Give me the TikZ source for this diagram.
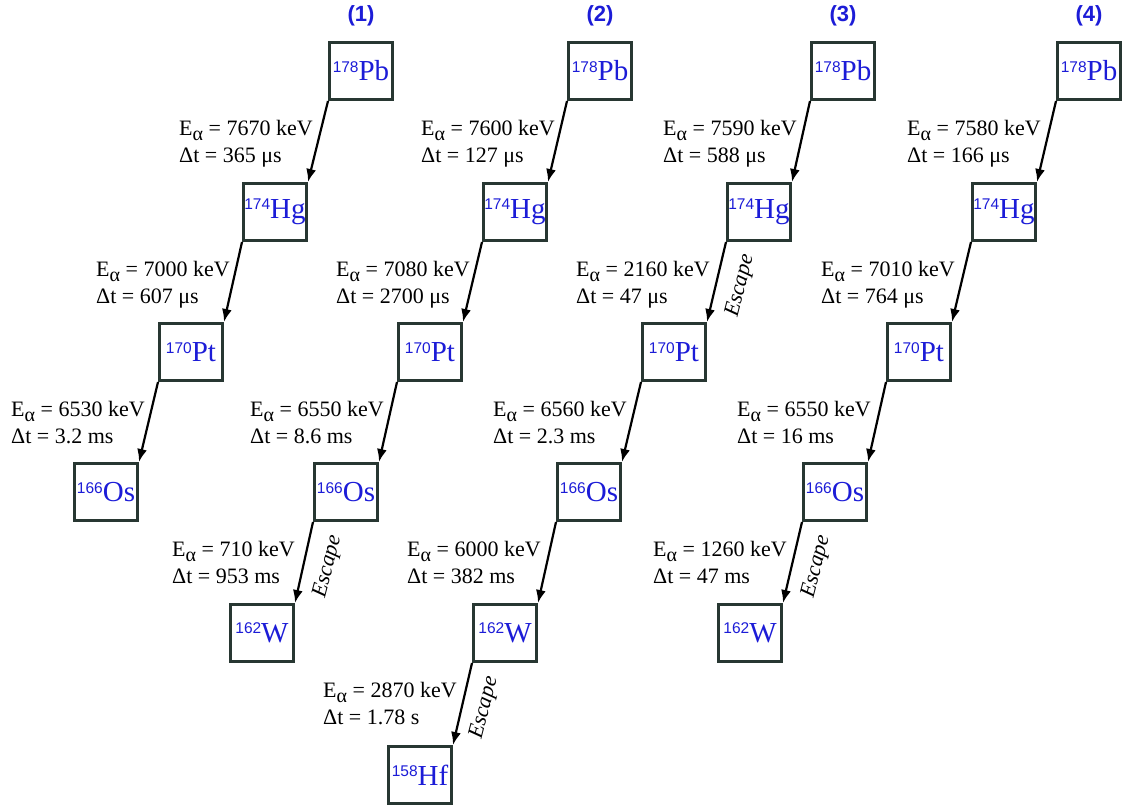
\documentclass[tikz,border=0pt]{standalone}
\usepackage{fontspec}
\setmainfont{Liberation Serif}
\setsansfont{Liberation Sans}
\usetikzlibrary{arrows.meta,calc}
\definecolor{elblue}{RGB}{28,28,215}
\definecolor{boxgray}{RGB}{40,55,50}
\newcommand{\nuc}[2]{{\sffamily\fontsize{15.5}{15.5}\selectfont\raisebox{8.5pt}{#1}}{\rmfamily\fontsize{29}{29}\selectfont #2}}
\newcommand{\dlab}[2]{E\raisebox{-5pt}{\fontsize{20}{20}\selectfont α} = #1 keV\\Δt = #2}
\begin{document}
\begin{tikzpicture}[x=1pt, y=-1pt,
  box/.style={draw=boxgray, line width=3pt, minimum width=63pt, minimum height=57pt, inner sep=0pt, text=elblue, anchor=north west},
  arr/.style={-{Latex[length=13pt,width=10pt]}, line width=2.2pt},
  lab/.style={anchor=north west, inner sep=0pt, align=left, font=\rmfamily\fontsize{22}{27}\selectfont},
  esc/.style={font=\rmfamily\fontsize{22}{22}\selectfont\itshape, rotate=75.5, inner sep=0pt},
  hdr/.style={text=elblue, font=\sffamily\bfseries\fontsize{22}{22}\selectfont, inner sep=0pt}]
\useasboundingbox (0,0) rectangle (1123,809);
% chain 1
\node[box] (a1) at (328,41) {\nuc{178}{Pb}};
\node[box] (a2) at (242,182) {\nuc{174}{Hg}};
\node[box] (a3) at (158,322) {\nuc{170}{Pt}};
\node[box] (a4) at (73,462) {\nuc{166}{Os}};
% chain 2
\node[box] (b1) at (567,41) {\nuc{178}{Pb}};
\node[box] (b2) at (482,182) {\nuc{174}{Hg}};
\node[box] (b3) at (397,322) {\nuc{170}{Pt}};
\node[box] (b4) at (313,462) {\nuc{166}{Os}};
\node[box] (b5) at (229,603) {\nuc{162}{W}};
% chain 3
\node[box] (c1) at (810,41) {\nuc{178}{Pb}};
\node[box] (c2) at (726,182) {\nuc{174}{Hg}};
\node[box] (c3) at (641,322) {\nuc{170}{Pt}};
\node[box] (c4) at (556,462) {\nuc{166}{Os}};
\node[box] (c5) at (472,603) {\nuc{162}{W}};
\node[box] (c6) at (387,745) {\nuc{158}{Hf}};
% chain 4
\node[box] (d1) at (1056,41) {\nuc{178}{Pb}};
\node[box] (d2) at (971,182) {\nuc{174}{Hg}};
\node[box] (d3) at (886,322) {\nuc{170}{Pt}};
\node[box] (d4) at (802,462) {\nuc{166}{Os}};
\node[box] (d5) at (717,603) {\nuc{162}{W}};
% headers
\node[hdr] (h1) at (a1.north |- 0,16) {(1)};
\node[hdr] (h2) at (b1.north |- 0,16) {(2)};
\node[hdr] (h3) at (c1.north |- 0,16) {(3)};
\node[hdr] (h4) at (d1.north |- 0,16) {(4)};
% arrows
\foreach \u/\v in {a1/a2,a2/a3,a3/a4,b1/b2,b2/b3,b3/b4,b4/b5,c1/c2,c2/c3,c3/c4,c4/c5,c5/c6,d1/d2,d2/d3,d3/d4,d4/d5}
  \draw[arr] (\u.south west) -- (\v.north east);
% labels
\node[lab] (la1) at (179,120) {\dlab{7670}{365 μs}};
\node[lab] (la2) at (96,261) {\dlab{7000}{607 μs}};
\node[lab] (la3) at (11,401) {\dlab{6530}{3.2 ms}};
\node[lab] (lb1) at (421,120) {\dlab{7600}{127 μs}};
\node[lab] (lb2) at (336,261) {\dlab{7080}{2700 μs}};
\node[lab] (lb3) at (250,401) {\dlab{6550}{8.6 ms}};
\node[lab] (lb4) at (172,541) {\dlab{710}{953 ms}};
\node[lab] (lc1) at (663,120) {\dlab{7590}{588 μs}};
\node[lab] (lc2) at (576,261) {\dlab{2160}{47 μs}};
\node[lab] (lc3) at (493,401) {\dlab{6560}{2.3 ms}};
\node[lab] (lc4) at (407,541) {\dlab{6000}{382 ms}};
\node[lab] (lc5) at (323,682) {\dlab{2870}{1.78 s}};
\node[lab] (ld1) at (907,120) {\dlab{7580}{166 μs}};
\node[lab] (ld2) at (821,261) {\dlab{7010}{764 μs}};
\node[lab] (ld3) at (737,401) {\dlab{6550}{16 ms}};
\node[lab] (ld4) at (653,541) {\dlab{1260}{47 ms}};
% escape labels
\node[esc] (eb4) at ($(b4.south west)!0.5!(b5.north east)+(24,4)$) {Escape};
\node[esc] (ec2) at ($(c2.south west)!0.5!(c3.north east)+(24,4)$) {Escape};
\node[esc] (ec5) at ($(c5.south west)!0.5!(c6.north east)+(22,4)$) {Escape};
\node[esc] (ed4) at ($(d4.south west)!0.5!(d5.north east)+(24,4)$) {Escape};
\end{tikzpicture}
\end{document}
